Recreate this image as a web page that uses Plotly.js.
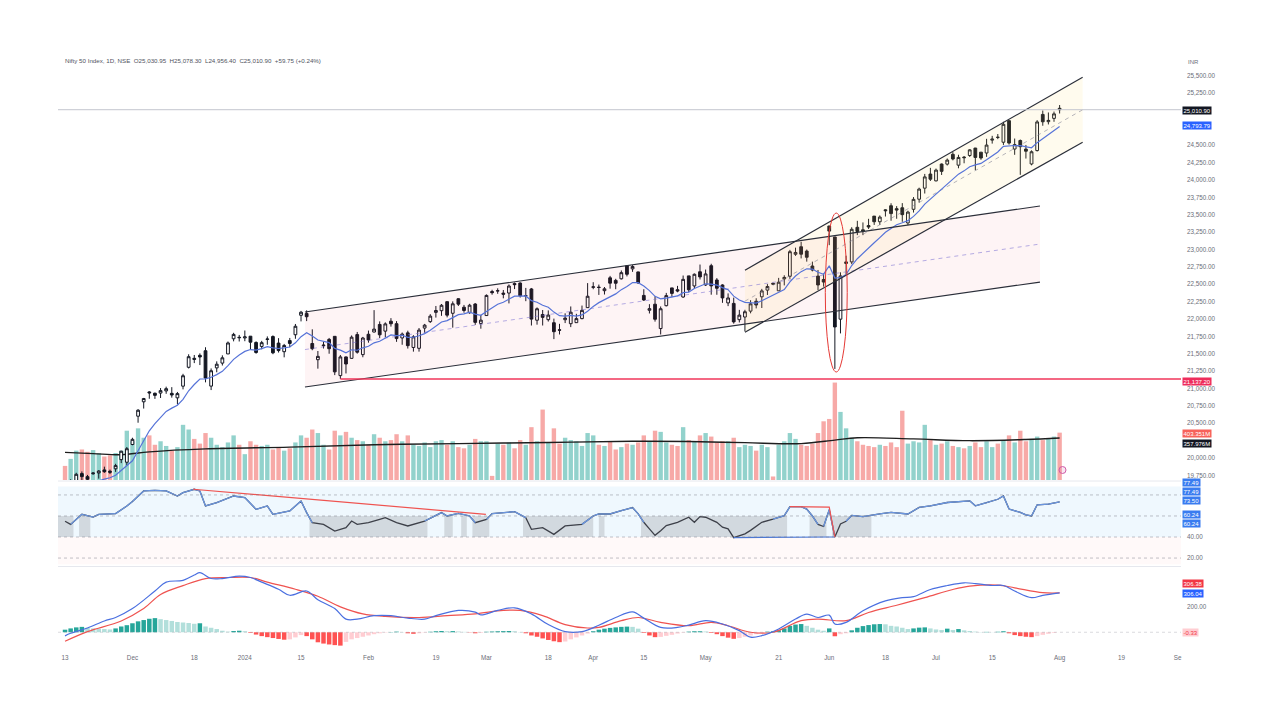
<!DOCTYPE html>
<html><head><meta charset="utf-8">
<script src="https://cdn.plot.ly/plotly-3.0.1.min.js"></script>
<style>html,body{margin:0;padding:0;background:#fff;overflow:hidden;}#chart{width:1280px;height:720px;}</style>
</head><body><div id="chart"></div>
<script>
// ---------- DATA (Nifty 50, daily, 13 Nov 2023 - 1 Aug 2024; x = trading-bar index) ----------
const opens = [
19487,19651,19675,19775,19731,19773,19784,19828,19809,19844,19976,19939,
20194,20601,20808,20950,20931,20934,20965,20930,20865,21033,21305,21434,21477,21543,21034,21296,21365,21497,21715,21737,
21727,21752,21662,21605,21706,21747,21653,21529,21689,21773,22053,22080,21647,21414,21615,21706,21750,21185,21454,21433,21775,21487,
21780,21812,21921,21825,21968,21932,21727,21800,21590,21578,21869,21962,22095,22119,22249,22082,22291,22169,22090,22215,21936,
22049,22395,22403,22372,22373,22509,22517,22334,22432,21982,22064,21990,21946,21844,21989,21932,21947,22005,22163,
22455,22458,22407,22592,22555,22578,22765,22721,22677,22339,22125,22212,21862,22191,22447,22421,22316,22620,22475,22679,
22489,22766,22561,22489,22231,22224,21990,22028,22113,22255,22319,22415,22513,22405,22577,22614,22931,23039,22977,22762,22617,22568,
23338,23180,21997,22798,22821,23319,23283,23344,23480,23399,23570,23629,23587,23600,23382,23578,23723,23882,24085,
23987,24229,24228,24369,24213,24329,24352,24459,24400,24388,24573,24614,24543,24853,24445,24568,24444,24230,24423,24943,24839,24886,
25030.95];
const highs = [
19494,19693,19787,19806,19756,19794,19825,19875,19832,19916,20104,20158,
20291,20703,20864,20962,20941,21006,21026,21019,20950,21211,21492,21482,21505,21593,21288,21390,21477,21676,21801,21770,
21834,21755,21678,21685,21749,21764,21724,21641,21727,21928,22116,22124,21851,21539,21670,21727,21750,21482,21460,21763,21813,21742,
21833,22127,21965,21951,22012,21969,21805,21831,21767,21870,21929,22069,22187,22215,22250,22253,22297,22202,22218,22229,22060,
22353,22420,22441,22417,22497,22525,22526,22447,22446,22166,22129,22123,22005,21930,22081,22180,22074,22193,22516,
22529,22495,22460,22620,22578,22698,22768,22775,22680,22428,22213,22326,22180,22375,22447,22476,22625,22620,22655,22783,
22711,22794,22588,22499,22368,22307,22131,22132,22270,22298,22433,22502,22520,22591,22629,22994,23026,23111,22999,22825,22705,22653,
23338,23180,22671,22910,23320,23412,23389,23441,23481,23490,23579,23665,23624,23667,23558,23754,23889,24087,24174,
24164,24237,24309,24401,24363,24345,24443,24462,24402,24592,24635,24661,24837,24854,24596,24582,24504,24426,24861,24999,24971,24984,
25078.30];
const lows = [
19414,19628,19667,19681,19670,19758,19703,19786,19768,19800,19926,19895,
20183,20507,20711,20852,20850,20863,20923,20868,20770,20987,21288,21365,21337,21088,20977,21233,21330,21495,21678,21676,
21680,21555,21500,21564,21629,21493,21517,21448,21593,21715,21965,21969,21550,21285,21575,21500,21192,21137.2,21216,21430,21501,21449,
21659,21806,21726,21737,21890,21671,21629,21574,21530,21530,21801,21943,22020,22045,22023,21875,22187,22090,22075,21915,21860,
22047,22349,22362,22297,22224,22430,22308,22256,21906,21918,21906,21963,21710,21777,21941,21883,21947,21996,22163,
22428,22346,22352,22436,22428,22568,22612,22678,22504,22259,22079,21962,21777,22181,22319,22384,22305,22385,22432,22568,
22474,22349,22348,22232,22185,21933,21950,21821,22081,22152,22158,22345,22490,22404,22483,22577,22908,22871,22825,22685,22417,22465,
23062,21281,21792,22642,22789,23207,23206,23295,23353,23354,23474,23413,23442,23398,23350,23531,23674,23805,23985,
23980,24072,24208,24282,24168,24240,24331,24141,24290,24332,24523,24587,24504,24508,24362,24074,24308,24211,24410,24780,24799,24837,
24956.40];
const closes = [
19443,19675,19765,19732,19694,19783,19812,19802,19795,19890,20097,20133,
20268,20687,20855,20937,20901,20969,20997,20906,20926,21183,21457,21419,21453,21150,21255,21349,21441,21655,21778,21731,
21742,21666,21518,21659,21711,21513,21545,21619,21648,21895,22097,22032,21572,21462,21623,21572,21239,21454,21352,21738,21522,21726,
21698,21854,21772,21929,21931,21718,21783,21616,21743,21840,21911,22041,22122,22197,22055,22218,22213,22122,22198,21951,21983,
22339,22378,22406,22356,22474,22494,22333,22335,21998,22147,22023,22056,21817,21839,22012,22097,22005,22124,22327,
22462,22453,22434,22515,22514,22666,22643,22754,22519,22273,22148,21996,22147,22336,22368,22402,22570,22420,22643,22605,
22648,22476,22442,22303,22302,21958,22055,22104,22218,22201,22404,22467,22502,22529,22598,22968,22957,22932,22888,22704,22489,22531,
23264,21885,22620,22821,23290,23259,23265,23323,23399,23466,23558,23516,23567,23501,23538,23721,23869,24044,24011,
24142,24124,24286,24302,24324,24321,24433,24324,24316,24502,24587,24613,24801,24531,24509,24479,24414,24406,24835,24837,24857,24951,
25010.90];
const ema9 = [
19425,19475,19533,19573,19597,19634,19670,19696,19716,19751,19820,19883,
19960,20105,20255,20391,20493,20588,20670,20717,20759,20844,20967,21057,21136,21139,21162,21199,21247,21329,21419,21481,
21533,21560,21552,21573,21601,21583,21575,21584,21597,21657,21745,21802,21756,21697,21682,21660,21576,21552,21512,21557,21550,21585,
21608,21657,21680,21730,21770,21760,21765,21735,21737,21758,21789,21839,21896,21956,21976,22024,22062,22074,22099,22069,22052,
22109,22163,22212,22241,22288,22329,22330,22331,22264,22241,22197,22169,22099,22047,22040,22051,22042,22058,22112,
22181,22235,22275,22323,22361,22422,22466,22524,22523,22473,22408,22326,22290,22299,22313,22331,22379,22387,22438,22471,
22506,22500,22488,22451,22421,22328,22273,22239,22235,22228,22263,22304,22344,22381,22424,22533,22618,22681,22722,22718,22672,22644,
22764,22588,22594,22639,22769,22867,22947,23022,23097,23171,23248,23302,23355,23384,23415,23476,23555,23653,23725,
23808,23871,23954,24024,24084,24131,24191,24218,24238,24291,24350,24403,24483,24493,24496,24493,24477,24463,24537,24597,24649,24709,
24769];
const volumeM = [
120,180,250,260,240,255,230,200,210,230,250,420,
330,440,360,380,300,330,290,250,280,470,430,350,310,400,360,300,280,320,380,300,
220,330,300,290,300,260,280,250,270,320,380,360,430,400,300,260,420,380,410,360,340,330,
300,390,360,330,340,390,330,380,300,290,320,280,330,340,300,330,280,270,300,350,330,
330,35,310,300,320,270,340,300,450,330,600,320,440,310,360,340,330,290,400,
380,300,290,330,260,280,310,300,320,380,330,420,410,320,300,290,450,340,330,380,
400,370,320,330,330,360,280,300,290,250,300,280,30,300,330,400,350,300,290,310,400,500,
520,830,580,440,360,330,300,290,280,300,290,320,280,590,310,330,320,470,350,
300,310,330,290,280,270,290,320,280,330,280,310,340,380,320,420,330,350,370,340,350,370,
403.351];
const volMAIdx = [0,5,10,15,25,40,55,70,86,101,111,121,131,137,141,151,161,171,177];
const volMAVal = [235,225,215,240,265,280,300,310,320,330,328,318,310,340,360,350,335,345,357.976];

const rsiIdx = [0,1,3,5,6,9,11,12,14,16,18,20,21,23,24,25,27,30,32,34,36,37,40,42,43,44,46,48,50,51,52,54,56,57,59,61,64,67,68,70,72,73,75,76,80,82,83,85,87,89,92,94,95,97,99,101,102,103,104,105,106,107,109,111,112,113,114,116,117,118,119,121,122,124,126,128,129,131,132,133,134,135,136,137,138,139,140,142,145,147,150,152,154,157,161,162,164,166,167,168,170,171,172,173,175,177];
const rsiVal = [55,52,61.6,59,61.6,62.2,69.5,73.7,83.8,84.4,83.8,79,82.2,85.4,83.8,69.5,72.7,79,77.5,66.3,69.5,61.6,64.8,74.3,63.2,53.6,52,45.7,48.9,55.2,52,53.6,56.8,58.4,53.6,50.5,55.2,63.2,60,62.5,60,53.6,56.8,62.2,64.1,58.4,47.3,48.9,42.5,50.5,52,60,61.9,61.9,65,68,62,54,47.8,41.6,46,50.9,54,58.8,54,59.4,58.8,54,49.4,47.8,39.4,43,46.3,54,57,60.3,68.8,68.8,66.6,60,52,50,66,40,52.5,55,60.5,59.4,61.9,63.4,61.9,68.1,69.7,72.8,74.4,69.7,72.8,75.9,79.1,66.6,63.4,61,60,70.6,71.3,73.5];
const rsiGrayZones = [[-1.25,1.5],[2.5,4.5],[43.5,64.5],[67.5,69],[70.5,71.5],[72.5,75.5],[81.5,94],[95,96],[102.5,128.5],[132.5,135.5],[136.5,143.5]];
const rsiRedTrend = {x:[22.8,74.9], y:[85.4,61.6]};
const rsiBlueTrend = {x:[119,137], y:[39.4,40]};
const rsiRedDiv = {x:[129,136,137], y:[68.8,68.5,40]};

const macdIdx = [0,1,4,7,9,12,16,18,21,23,24,26,28,31,33,35,38,40,43,45,48,50,52,55,58,61,64,66,70,73,74,77,80,83,86,89,92,95,98,101,103,106,109,111,114,117,120,122,124,127,130,132,134,136,137,139,142,146,149,151,154,157,160,162,165,167,169,172,174,177];
const macdVal = [-28,-8,33,88,115,184,321,390,404,445,464,418,418,437,426,390,335,288,321,253,184,102,102,129,129,110,102,129,170,157,135,170,190,143,60,5,5,55,115,159,110,38,38,56,90,64,13,-38,-26,26,103,141,115,133,64,77,167,244,269,277,333,364,385,379,364,364,321,269,287,306.04];
const signalIdx = [0,4,10,14,17,21,25,29,33,36,41,45,49,53,57,63,68,73,78,81,85,89,93,95,99,102,106,111,115,118,122,126,131,134,139,143,148,153,158,161,166,169,174,177];
const signalVal = [-70,5,88,184,294,363,418,426,426,390,335,280,198,143,124,115,129,143,170,170,129,60,33,38,90,115,77,51,77,51,0,0,90,103,90,154,210,269,333,359,367,346,308,306.38];
const macdHist = [
20,30,38,42,35,30,28,25,22,30,45,55,
70,85,95,105,110,102,95,88,80,76,72,66,70,45,35,25,12,5,10,12,
8,-5,-18,-30,-38,-45,-52,-58,-55,-40,-22,-30,-55,-78,-88,-95,-100,-104,-75,-55,-45,-35,
-25,-15,-8,-3,2,5,2,-8,-12,-8,-3,4,8,10,8,9,6,3,-2,-8,-5,
4,6,8,9,10,8,2,-8,-25,-35,-48,-60,-70,-77,-72,-55,-40,-25,-10,
8,20,28,34,38,42,44,42,28,-5,-25,-38,-36,-28,-20,-10,-3,5,8,8,
6,-5,-15,-30,-42,-51,-45,-35,-25,-15,-5,5,8,15,30,50,60,64,50,35,20,12,
30,-31,-15,-8,15,35,48,56,62,64,62,50,45,35,25,30,36,38,30,
22,18,28,18,25,15,10,5,2,3,1,4,8,-8,-22,-30,-35,-38,-30,-20,-12,-5,
-0.33];

// drawn channels / levels (in bar-index / price units)
const chanAx = [42.7,173.5], chanAUpper = [22100,23625], chanALower = [21021,22531], chanAMid = [21560,23078];
const chanBx = [121,181.1],  chanBUpper = [22702,25478], chanBLower = [21810,24543], chanBMid = [22256,25010];
const supportLevel = 21137.2, supportFromIdx = 49;
const juneEllipse = {x:[135.3,139.2], y:[21237,23524]};

const dateTickIdx = [0,12,23,32,42,54,66,75,86,94,103,114,127,136,146,155,165,177,188,198];
const dateTickText = ["13","Dec","18","2024","15","Feb","19","Mar","18","Apr","15","May","21","Jun","18","Jul","15","Aug","19","Se"];
const priceTicks = [25500,25250,24500,24250,24000,23750,23500,23250,23000,22750,22500,22250,22000,21750,21500,21250,21000,20750,20500,20000,19750];

// ---------- helpers ----------
const W = 1280, H = 720;
const fx = p => p / W, fy = p => 1 - p / H;
const idx = closes.map((_, i) => i);
const GREEN = 'rgba(38,166,154,0.5)', RED = 'rgba(239,83,80,0.5)';
const volColors = closes.map((c, i) => c >= opens[i] ? GREEN : RED);
const histColors = macdHist.map((h, i) => {
  const p = i > 0 ? macdHist[i-1] : h;
  if (h >= 0) return h >= p ? '#26a69a' : '#b2dfdb';
  return h < p ? '#ff5252' : '#ffcdd2';
});
const bx = [], by = [];
for (let i = 0; i < rsiIdx.length - 1; i++) {
  if (rsiVal[i] >= 60 || rsiVal[i+1] >= 60) { bx.push(rsiIdx[i], rsiIdx[i+1], null); by.push(rsiVal[i], rsiVal[i+1], null); }
}
const FONT = 'Liberation Sans, Arial, sans-serif';
const AX = '#6b6e78';

const traces = [
  {type:'bar', x: idx, y: volumeM, xaxis:'x', yaxis:'y', marker:{color: volColors, line:{width:0}}, width:0.78, hoverinfo:'skip'},
  {type:'scatter', mode:'lines', x: volMAIdx, y: volMAVal, xaxis:'x', yaxis:'y', line:{color:'#1e1e1e', width:1.4, shape:'spline'}, hoverinfo:'skip'},
  {type:'scatter', mode:'lines', x:[chanAx[0],chanAx[1],chanAx[1],chanAx[0],chanAx[0]], y:[chanAUpper[0],chanAUpper[1],chanALower[1],chanALower[0],chanAUpper[0]],
   xaxis:'x', yaxis:'y2', fill:'toself', fillcolor:'rgba(242,54,69,0.055)', line:{width:0}, hoverinfo:'skip'},
  {type:'scatter', mode:'lines', x:[chanBx[0],chanBx[1],chanBx[1],chanBx[0],chanBx[0]], y:[chanBUpper[0],chanBUpper[1],chanBLower[1],chanBLower[0],chanBUpper[0]],
   xaxis:'x', yaxis:'y2', fill:'toself', fillcolor:'rgba(255,214,90,0.10)', line:{width:0}, hoverinfo:'skip'},
  {type:'scatter', mode:'lines', x:chanAx, y:chanAMid, xaxis:'x', yaxis:'y2', line:{color:'rgba(120,110,210,0.55)', width:1, dash:'4px,4px'}, hoverinfo:'skip'},
  {type:'scatter', mode:'lines', x:chanBx, y:chanBMid, xaxis:'x', yaxis:'y2', line:{color:'rgba(120,120,140,0.55)', width:1, dash:'4px,4px'}, hoverinfo:'skip'},
  {type:'candlestick', x: idx, open: opens, high: highs, low: lows, close: closes, xaxis:'x', yaxis:'y2',
   increasing:{line:{color:'#131722', width:1}, fillcolor:'#ffffff'},
   decreasing:{line:{color:'#131722', width:1}, fillcolor:'#131722'}, whiskerwidth:0, hoverinfo:'skip'},
  {type:'scatter', mode:'lines', x: idx, y: ema9, xaxis:'x', yaxis:'y2', line:{color:'#5673d8', width:1.2}, hoverinfo:'skip'},
  {type:'scatter', mode:'lines', x:chanAx, y:chanAUpper, xaxis:'x', yaxis:'y2', line:{color:'#2a2e39', width:1.2}, hoverinfo:'skip'},
  {type:'scatter', mode:'lines', x:chanAx, y:chanALower, xaxis:'x', yaxis:'y2', line:{color:'#2a2e39', width:1.2}, hoverinfo:'skip'},
  {type:'scatter', mode:'lines', x:chanBx, y:chanBUpper, xaxis:'x', yaxis:'y2', line:{color:'#2a2e39', width:1.2}, hoverinfo:'skip'},
  {type:'scatter', mode:'lines', x:chanBx, y:chanBLower, xaxis:'x', yaxis:'y2', line:{color:'#2a2e39', width:1.2}, hoverinfo:'skip'},
  {type:'scatter', mode:'lines', x: rsiIdx, y: rsiVal, xaxis:'x', yaxis:'y3', line:{color:'#3d4049', width:1.3}, hoverinfo:'skip'},
  {type:'scatter', mode:'lines', x: bx, y: by, xaxis:'x', yaxis:'y3', line:{color:'#6b96e0', width:1.3}, connectgaps:false, hoverinfo:'skip'},
  {type:'scatter', mode:'lines', x: rsiRedTrend.x, y: rsiRedTrend.y, xaxis:'x', yaxis:'y3', line:{color:'#ef5350', width:1.2}, hoverinfo:'skip'},
  {type:'scatter', mode:'lines', x: rsiBlueTrend.x, y: rsiBlueTrend.y, xaxis:'x', yaxis:'y3', line:{color:'#4a78d8', width:1.2}, hoverinfo:'skip'},
  {type:'scatter', mode:'lines', x: rsiRedDiv.x, y: rsiRedDiv.y, xaxis:'x', yaxis:'y3', line:{color:'#ef5350', width:1.2}, hoverinfo:'skip'},
  {type:'bar', x: idx, y: macdHist, xaxis:'x', yaxis:'y4', marker:{color: histColors, line:{width:0}}, width:0.8, hoverinfo:'skip'},
  {type:'scatter', mode:'lines', x: signalIdx, y: signalVal, xaxis:'x', yaxis:'y4', line:{color:'#ef5350', width:1.2, shape:'spline'}, hoverinfo:'skip'},
  {type:'scatter', mode:'lines', x: macdIdx, y: macdVal, xaxis:'x', yaxis:'y4', line:{color:'#4a6fe0', width:1.2, shape:'spline'}, hoverinfo:'skip'}
];

const shapes = [
  {type:'line', xref:'paper', x0:fx(58), x1:fx(1181), yref:'y2', y0:closes[closes.length-1], y1:closes[closes.length-1], line:{color:'#c3c6ce', width:1}},
  {type:'line', xref:'x', x0:supportFromIdx, x1:198.6, yref:'y2', y0:supportLevel, y1:supportLevel, line:{color:'#f0365a', width:1.5}},
  {type:'circle', xref:'x', yref:'y2', x0:juneEllipse.x[0], x1:juneEllipse.x[1], y0:juneEllipse.y[0], y1:juneEllipse.y[1], line:{color:'#e53935', width:1}},
  {type:'rect', layer:'below', xref:'paper', x0:fx(58), x1:fx(1181), yref:'y3', y0:40, y1:88, fillcolor:'rgba(33,150,243,0.07)', line:{width:0}},
  {type:'rect', layer:'below', xref:'paper', x0:fx(58), x1:fx(1181), yref:'y3', y0:14, y1:40, fillcolor:'rgba(242,54,69,0.03)', line:{width:0}},
  {type:'line', xref:'paper', x0:fx(58), x1:fx(1181), yref:'paper', y0:fy(481), y1:fy(481), line:{color:'#e6e8ee', width:1}},
  {type:'line', xref:'paper', x0:fx(58), x1:fx(1181), yref:'paper', y0:fy(566.5), y1:fy(566.5), line:{color:'#e6e8ee', width:1}},
  {type:'line', xref:'paper', x0:fx(58), x1:fx(1181), yref:'y4', y0:0, y1:0, line:{color:'rgba(150,150,160,0.35)', width:1, dash:'3px,3px'}},
  {type:'circle', xref:'paper', yref:'paper', x0:fx(1059), x1:fx(1066), y0:fy(473.5), y1:fy(466.5), line:{color:'#d05ca8', width:1}, fillcolor:'rgba(208,92,168,0.15)'}
];
rsiGrayZones.forEach(z => shapes.push({type:'rect', layer:'below', xref:'x', x0:z[0], x1:z[1], yref:'y3', y0:40, y1:60, fillcolor:'rgba(110,110,115,0.22)', line:{width:0}}));
[80,60,40,20].forEach(l => shapes.push({type:'line', xref:'paper', x0:fx(58), x1:fx(1181), yref:'y3', y0:l, y1:l, line:{color:'rgba(120,123,134,0.45)', width:1, dash:'3px,3px'}}));

const box = (text, ypix, bg, fg) => ({xref:'paper', yref:'paper', x:fx(1182), y:fy(ypix), xanchor:'left', yanchor:'middle', text:text, showarrow:false,
  bgcolor:bg, borderpad:0.5, font:{family:FONT, size:6, color:fg || '#ffffff'}});
const annotations = [
  {xref:'paper', yref:'paper', x:fx(63), y:fy(60), xanchor:'left', yanchor:'middle', showarrow:false,
   text:'Nifty 50 Index, 1D, NSE  O25,030.95  H25,078.30  L24,956.40  C25,010.90  +59.75 (+0.24%)', font:{family:FONT, size:6.2, color:'#50535e'}},
  {xref:'paper', yref:'paper', x:fx(1186), y:fy(61.5), xanchor:'left', yanchor:'middle', showarrow:false, text:'INR', font:{family:FONT, size:6, color:AX}},
  box('25,010.90', 110, '#131722'),
  box('24,793.79', 125, '#2962ff'),
  box('21,137.20', 381, '#ee2d5c'),
  box('403.351M', 433, '#f7625b'),
  box('357.976M', 443.5, '#131722'),
  box('77.49', 483, '#3a7cf0'),
  box('77.49', 491.5, '#3a7cf0'),
  box('73.50', 500, '#3a7cf0'),
  box('60.24', 514.5, '#3a7cf0'),
  box('60.24', 523, '#3a7cf0'),
  box('306.38', 583, '#f23645'),
  box('306.04', 593, '#2962ff'),
  box('-0.33', 632, '#ffcdd2', '#f23645')
];

const tickFont = {family:FONT, size:6.3, color:AX};
const layout = {
  width: W, height: H, margin:{l:0, r:0, t:0, b:0},
  paper_bgcolor:'#ffffff', plot_bgcolor:'#ffffff', showlegend:false, hovermode:false, dragmode:false, barmode:'overlay',
  xaxis:{domain:[fx(58), fx(1181)], range:[-1.25, 198.6], anchor:'y4', showgrid:false, zeroline:false, showline:false,
         rangeslider:{visible:false},
         tickmode:'array', tickvals: dateTickIdx, ticktext: dateTickText, ticks:'', tickfont: tickFont, ticklabelstandoff: 3, fixedrange:true},
  yaxis:{domain:[fy(480), fy(50)], range:[0, 3663], visible:false, fixedrange:true},
  yaxis2:{overlaying:'y', side:'right', anchor:'x', range:[19683, 25870], showgrid:false, zeroline:false, showline:false,
          tickmode:'array', tickvals: priceTicks, tickformat:',.2f', ticks:'', tickfont: tickFont, ticklabelstandoff: 5, fixedrange:true},
  yaxis3:{domain:[fy(565), fy(482)], anchor:'x', side:'right', range:[13.4, 92.3], showgrid:false, zeroline:false, showline:false,
          tickmode:'array', tickvals:[20,40], tickformat:'.2f', ticks:'', tickfont: tickFont, ticklabelstandoff: 5, fixedrange:true},
  yaxis4:{domain:[fy(650), fy(568)], anchor:'x', side:'right', range:[-138, 500], showgrid:false, zeroline:false, showline:false,
          tickmode:'array', tickvals:[200], tickformat:'.2f', ticks:'', tickfont: tickFont, ticklabelstandoff: 5, fixedrange:true},
  shapes: shapes, annotations: annotations
};
Plotly.newPlot('chart', traces, layout, {displayModeBar:false, staticPlot:true});
</script>
</body></html>
